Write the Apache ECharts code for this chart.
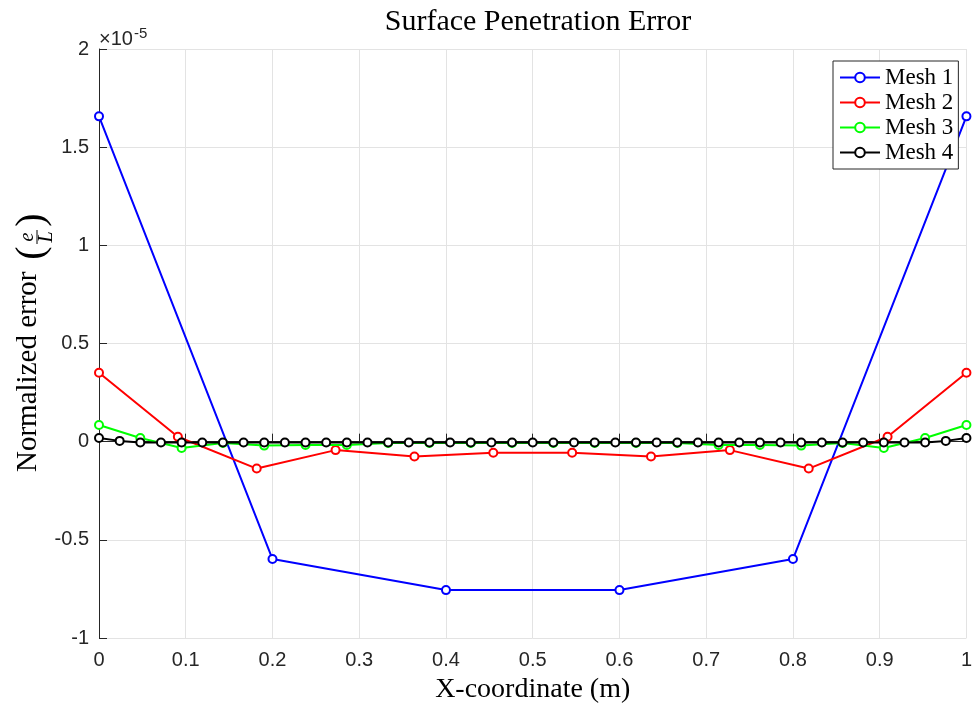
<!DOCTYPE html>
<html>
<head>
<meta charset="utf-8">
<script src="https://cdn.jsdelivr.net/npm/echarts@6/dist/echarts.min.js"></script>
<style>
  html, body { margin: 0; padding: 0; background: #ffffff; }
  #chart { width: 975px; height: 709px; }
</style>
</head>
<body>
<div id="chart"></div>
<script>
// Values are in units of 1e-5
const mesh1X = [0, 0.2, 0.4, 0.6, 0.8, 1];
const mesh1Y = [1.657, -0.598, -0.756, -0.756, -0.598, 1.657];

const mesh2X = [0, 1/11, 2/11, 3/11, 4/11, 5/11, 6/11, 7/11, 8/11, 9/11, 10/11, 1];
const mesh2Y = [0.351, 0.025, -0.137, -0.043, -0.076, -0.056, -0.056, -0.076, -0.043, -0.137, 0.025, 0.351];

const mesh3X = [0, 1/21, 2/21, 3/21, 4/21, 5/21, 6/21, 7/21, 8/21, 9/21, 10/21,
                11/21, 12/21, 13/21, 14/21, 15/21, 16/21, 17/21, 18/21, 19/21, 20/21, 1];
const mesh3Y = [0.085, 0.019, -0.032, -0.007, -0.020, -0.017, -0.017, -0.007, -0.007, -0.007, -0.007,
                -0.007, -0.007, -0.007, -0.007, -0.017, -0.017, -0.020, -0.007, -0.032, 0.019, 0.085];

const mesh4X = [0, 1/42, 2/42, 3/42, 4/42, 5/42, 6/42, 7/42, 8/42, 9/42, 10/42,
                11/42, 12/42, 13/42, 14/42, 15/42, 16/42, 17/42, 18/42, 19/42, 20/42,
                21/42, 22/42, 23/42, 24/42, 25/42, 26/42, 27/42, 28/42, 29/42, 30/42,
                31/42, 32/42, 33/42, 34/42, 35/42, 36/42, 37/42, 38/42, 39/42, 40/42, 41/42, 1];
const mesh4Y = [0.019, 0.004, -0.004, -0.004, -0.004, -0.004, -0.004, -0.004, -0.004, -0.004, -0.004,
                -0.004, -0.004, -0.004, -0.004, -0.004, -0.004, -0.004, -0.004, -0.004, -0.004,
                -0.004, -0.004, -0.004, -0.004, -0.004, -0.004, -0.004, -0.004, -0.004, -0.004,
                -0.004, -0.004, -0.004, -0.004, -0.004, -0.004, -0.004, -0.004, -0.004, -0.004, 0.004, 0.019];

const seriesNames = ['Mesh 1', 'Mesh 2', 'Mesh 3', 'Mesh 4'];
const seriesColors = ['#0000ff', '#ff0000', '#00ff00', '#000000'];
const xTicks = ['0', '0.1', '0.2', '0.3', '0.4', '0.5', '0.6', '0.7', '0.8', '0.9', '1'];
const yTicks = ['-1', '-0.5', '0', '0.5', '1', '1.5', '2'];

const titleText = 'Surface Penetration Error';
const xName = 'X-coordinate (m)';
const yName = 'Normalized error';

function pairs(xs, ys) { return xs.map((x, i) => [x, ys[i]]); }
const allData = [pairs(mesh1X, mesh1Y), pairs(mesh2X, mesh2Y), pairs(mesh3X, mesh3Y), pairs(mesh4X, mesh4Y)];

const SERIF = '"Liberation Serif", "Times New Roman", serif';
const SANS = '"Liberation Sans", Arial, Helvetica, sans-serif';
const AX = '#262626';

const chart = echarts.init(document.getElementById('chart'), null, { renderer: 'canvas' });

chart.setOption({
  backgroundColor: '#ffffff',
  animation: false,
  title: {
    text: titleText,
    left: 533,
    textAlign: 'center',
    top: 2,
    textStyle: { fontFamily: SERIF, fontSize: 30, fontWeight: 'normal', color: '#000' }
  },
  grid: { left: 99, right: 6, top: 49, bottom: 70, containLabel: false },
  legend: {
    data: seriesNames,
    orient: 'vertical',
    left: 833,
    top: 61,
    padding: [5, 5, 5, 6],
    itemWidth: 40,
    itemHeight: 12,
    itemGap: 2,
    backgroundColor: '#ffffff',
    borderColor: AX,
    borderWidth: 1,
    borderRadius: 0,
    textStyle: { fontFamily: SERIF, fontSize: 23, color: '#000', lineHeight: 22 }
  },
  xAxis: {
    type: 'value',
    min: 0,
    max: 1,
    interval: 0.1,
    name: xName,
    nameLocation: 'middle',
    nameGap: 38,
    nameTextStyle: { fontFamily: SERIF, fontSize: 28, color: '#000' },
    axisLine: { show: true, lineStyle: { color: AX, width: 1 } },
    axisTick: { show: true, inside: true, length: 8, lineStyle: { color: AX } },
    axisLabel: {
      margin: 12,
      fontFamily: SANS, fontSize: 20, color: AX,
      formatter: function (v) { return xTicks[Math.round(v * 10)]; }
    },
    splitLine: { show: true, lineStyle: { color: '#e3e3e3', width: 1 } }
  },
  yAxis: {
    type: 'value',
    min: -1,
    max: 2,
    interval: 0.5,
    axisLine: { show: true, lineStyle: { color: AX, width: 1 } },
    axisTick: { show: true, inside: true, length: 8, lineStyle: { color: AX } },
    axisLabel: {
      margin: 10,
      fontFamily: SANS, fontSize: 20, color: AX,
      formatter: function (v) { return yTicks[Math.round((v + 1) * 2)]; }
    },
    splitLine: { show: true, lineStyle: { color: '#e3e3e3', width: 1 } }
  },
  series: allData.map((d, i) => ({
    name: seriesNames[i],
    type: 'line',
    data: d,
    color: seriesColors[i],
    symbol: 'emptyCircle',
    symbolSize: 8,
    showAllSymbol: true,
    lineStyle: { width: 2, color: seriesColors[i] },
    itemStyle: { color: seriesColors[i], borderColor: seriesColors[i], borderWidth: 1.8 },
    z: 2 + i
  })),
  graphic: [
    {
      type: 'text',
      left: 99,
      top: 26,
      style: {
        text: '×10{s|-5}',
        fontFamily: SANS, fontSize: 20, fill: AX,
        rich: { s: { fontFamily: SANS, fontSize: 15, fill: AX, verticalAlign: 'top', padding: [0, 0, 12, 1] } }
      }
    },
    {
      type: 'group',
      x: 28,
      y: 342,
      rotation: Math.PI / 2,
      children: [
        { type: 'text', x: -130, y: 0, style: { text: yName, fontFamily: SERIF, fontSize: 29, fill: '#000', align: 'left', verticalAlign: 'middle' } },
        { type: 'text', x: 89, y: 4, style: { text: '(', fontFamily: SERIF, fontSize: 40, fill: '#000', align: 'center', verticalAlign: 'middle' } },
        { type: 'text', x: 105, y: 0, style: { text: 'e', fontFamily: SERIF, fontSize: 20, fontStyle: 'italic', fill: '#000', align: 'center', verticalAlign: 'middle' } },
        { type: 'line', shape: { x1: 98, y1: 9, x2: 112, y2: 9 }, style: { stroke: '#000', lineWidth: 1 } },
        { type: 'text', x: 105, y: 19, style: { text: 'L', fontFamily: SERIF, fontSize: 20, fontStyle: 'italic', fill: '#000', align: 'center', verticalAlign: 'middle' } },
        { type: 'text', x: 122, y: 4, style: { text: ')', fontFamily: SERIF, fontSize: 40, fill: '#000', align: 'center', verticalAlign: 'middle' } }
      ]
    }
  ]
});
</script>
</body>
</html>
